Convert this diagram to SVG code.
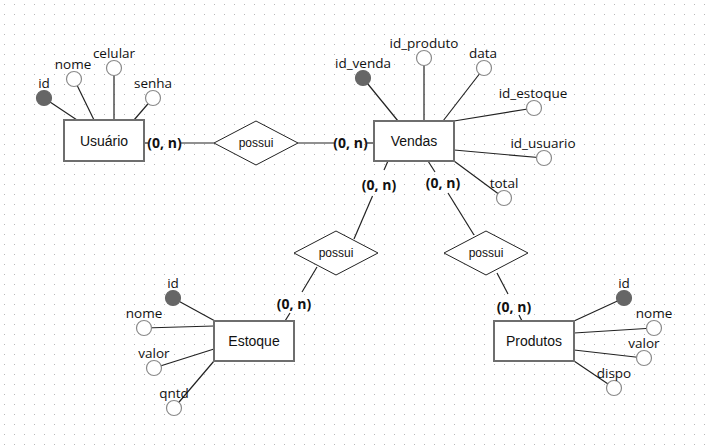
<svg xmlns="http://www.w3.org/2000/svg" width="712" height="446" viewBox="0 0 712 446">
<defs>
<pattern id="grid" x="0" y="0" width="10" height="10" patternUnits="userSpaceOnUse">
<rect x="4" y="4" width="1" height="1" fill="#b8b8b8"/>
</pattern>
<style>
.ent{fill:#fff;stroke:#6e6e6e;stroke-width:2}
.rel{fill:#fff;stroke:#222;stroke-width:1}
.att{fill:#fff;stroke:#8a8a8a;stroke-width:1.2}
.key{fill:#666;stroke:#666;stroke-width:1.2}
.ln{stroke:#222;stroke-width:1.2;fill:none}
.et{font-family:"Liberation Sans",Arial,sans-serif;font-size:14px;fill:#111;text-anchor:middle}
.rt{font-family:"Liberation Sans",Arial,sans-serif;font-size:12px;fill:#111;text-anchor:middle}
.at{font-family:"Open Sans","Noto Sans",sans-serif;font-size:13.5px;fill:#111;text-anchor:middle}
.ct{font-family:"Open Sans","Noto Sans",sans-serif;font-size:14px;font-weight:bold;fill:#111;text-anchor:middle}
</style>
</defs>
<rect width="712" height="446" fill="#fff"/>
<rect width="712" height="446" fill="url(#grid)"/>

<g id="connectors">
<!-- Usuario attrs -->
<line class="ln" x1="44" y1="98" x2="77" y2="120"/>
<line class="ln" x1="74" y1="79" x2="94" y2="120"/>
<line class="ln" x1="114" y1="68" x2="114" y2="120"/>
<line class="ln" x1="153" y1="98" x2="134" y2="120"/>
<!-- Vendas attrs -->
<line class="ln" x1="363" y1="78" x2="398" y2="121"/>
<line class="ln" x1="424" y1="58" x2="424" y2="121"/>
<line class="ln" x1="484" y1="68" x2="443" y2="121"/>
<line class="ln" x1="534" y1="108" x2="454" y2="121"/>
<line class="ln" x1="544" y1="158" x2="454" y2="150"/>
<line class="ln" x1="504" y1="198" x2="454" y2="161"/>
<!-- Estoque attrs -->
<line class="ln" x1="173" y1="298" x2="215" y2="321"/>
<line class="ln" x1="144" y1="328" x2="214" y2="326"/>
<line class="ln" x1="154" y1="368" x2="214" y2="349"/>
<line class="ln" x1="174" y1="408" x2="214" y2="361"/>
<!-- Produtos attrs -->
<line class="ln" x1="624" y1="298" x2="574" y2="321"/>
<line class="ln" x1="654" y1="328" x2="574" y2="333"/>
<line class="ln" x1="644" y1="358" x2="574" y2="350"/>
<line class="ln" x1="614" y1="388" x2="574" y2="361"/>
<!-- relationships -->
<line class="ln" x1="144" y1="143" x2="148" y2="143"/>
<line class="ln" x1="181" y1="143" x2="214" y2="143"/>
<line class="ln" x1="298" y1="143" x2="334" y2="143"/>
<line class="ln" x1="367" y1="143" x2="374" y2="143"/>
<line class="ln" x1="388" y1="161" x2="384" y2="170"/>
<line class="ln" x1="372.5" y1="196" x2="354" y2="239"/>
<line class="ln" x1="317" y1="267" x2="302" y2="292"/>
<line class="ln" x1="290" y1="313" x2="285" y2="321"/>
<line class="ln" x1="428" y1="161" x2="435" y2="172"/>
<line class="ln" x1="448" y1="193" x2="474" y2="235"/>
<line class="ln" x1="497" y1="273" x2="508" y2="294"/>
<line class="ln" x1="519" y1="315" x2="522" y2="321"/>
<text class="ct" x="164.5" y="148">(0, n)</text>
<text class="ct" x="350.5" y="148">(0, n)</text>
<text class="ct" x="379" y="190">(0, n)</text>
<text class="ct" x="443" y="188">(0, n)</text>
<text class="ct" x="294" y="309">(0, n)</text>
<text class="ct" x="514" y="312">(0, n)</text>
</g>

<g id="usuario">
<rect class="ent" x="64" y="120" width="80" height="41"/>
<text class="et" x="104" y="146">Usuário</text>
</g>
<g id="usuario-id"><circle class="key" cx="44" cy="98" r="7.5"/><text class="at" x="44" y="88">id</text></g>
<g id="usuario-nome"><circle class="att" cx="74" cy="79" r="7.5"/><text class="at" x="73" y="69">nome</text></g>
<g id="usuario-celular"><circle class="att" cx="114" cy="68" r="7.5"/><text class="at" x="114" y="58">celular</text></g>
<g id="usuario-senha"><circle class="att" cx="153" cy="98" r="7.5"/><text class="at" x="153" y="88">senha</text></g>

<g id="vendas">
<rect class="ent" x="374" y="121" width="80" height="40"/>
<text class="et" x="414" y="146">Vendas</text>
</g>
<g id="vendas-id_venda"><circle class="key" cx="363" cy="78" r="7.5"/><text class="at" x="363" y="68">id_venda</text></g>
<g id="vendas-id_produto"><circle class="att" cx="424" cy="58" r="7.5"/><text class="at" x="424" y="48">id_produto</text></g>
<g id="vendas-data"><circle class="att" cx="484" cy="68" r="7.5"/><text class="at" x="483" y="58">data</text></g>
<g id="vendas-id_estoque"><circle class="att" cx="534" cy="108" r="7.5"/><text class="at" x="533" y="98">id_estoque</text></g>
<g id="vendas-id_usuario"><circle class="att" cx="544" cy="158" r="7.5"/><text class="at" x="543" y="148">id_usuario</text></g>
<g id="vendas-total"><circle class="att" cx="504" cy="198" r="7.5"/><text class="at" x="504" y="188">total</text></g>

<g id="possui-usuario-vendas">
<polygon class="rel" points="256,121 298,143 256,165 214,143"/>
<text class="rt" x="256" y="147">possui</text>
</g>
<g id="possui-vendas-estoque">
<polygon class="rel" points="336,231 378,253 336,275 294,253"/>
<text class="rt" x="336" y="257">possui</text>
</g>
<g id="possui-vendas-produtos">
<polygon class="rel" points="486,231 528,253 486,275 444,253"/>
<text class="rt" x="486" y="257">possui</text>
</g>

<g id="estoque">
<rect class="ent" x="214" y="321" width="80" height="40"/>
<text class="et" x="254" y="346">Estoque</text>
</g>
<g id="estoque-id"><circle class="key" cx="173" cy="298" r="7.5"/><text class="at" x="173" y="288">id</text></g>
<g id="estoque-nome"><circle class="att" cx="144" cy="328" r="7.5"/><text class="at" x="144" y="318">nome</text></g>
<g id="estoque-valor"><circle class="att" cx="154" cy="368" r="7.5"/><text class="at" x="154" y="358">valor</text></g>
<g id="estoque-qntd"><circle class="att" cx="174" cy="408" r="7.5"/><text class="at" x="174" y="398">qntd</text></g>

<g id="produtos">
<rect class="ent" x="494" y="321" width="80" height="40"/>
<text class="et" x="534" y="346">Produtos</text>
</g>
<g id="produtos-id"><circle class="key" cx="624" cy="298" r="7.5"/><text class="at" x="624" y="288">id</text></g>
<g id="produtos-nome"><circle class="att" cx="654" cy="328" r="7.5"/><text class="at" x="654" y="318">nome</text></g>
<g id="produtos-valor"><circle class="att" cx="644" cy="358" r="7.5"/><text class="at" x="644" y="348">valor</text></g>
<g id="produtos-dispo"><circle class="att" cx="614" cy="388" r="7.5"/><text class="at" x="614" y="378">dispo</text></g>
</svg>
